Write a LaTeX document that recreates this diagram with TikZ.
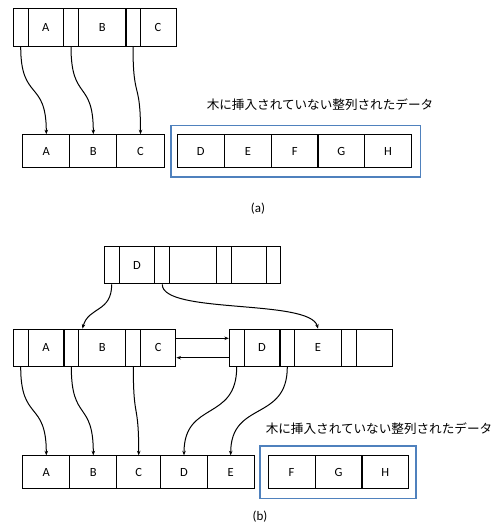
\documentclass[tikz,border=0pt]{standalone}
\usepackage{fontspec}
\setmainfont{Carlito}
\newfontfamily\jp{Noto Sans CJK JP}
\usetikzlibrary{arrows.meta}
\begin{document}
\begin{tikzpicture}[x=1pt,y=-1pt,
  cell/.style={draw=black,line width=1pt,inner sep=0pt,font=\fontsize{12.5}{14}\selectfont},
  topcell/.style={cell,minimum height=37.3pt},
  lowcell/.style={cell,minimum height=33pt},
  arr/.style={draw=black,line width=1pt,-{Stealth[length=4.5pt,width=3.5pt]}},
  bluebox/.style={draw={rgb,255:red,79;green,129;blue,189},line width=1.3pt},
  jplabel/.style={font=\jp\fontsize{12.6}{14}\selectfont,inner sep=0pt},
  caption/.style={font=\fontsize{13}{15}\selectfont,inner sep=0pt}]
\useasboundingbox (0,0) rectangle (502,526);

% ---------- (a) ----------
\node[topcell,minimum width=14.7pt] (aP0) at (20.7,27.5) {};
\node[topcell,minimum width=35.3pt] (aA) at (45.7,27.5) {A};
\node[topcell,minimum width=15.4pt] (aP1) at (71,27.5) {};
\node[topcell,minimum width=47.3pt] (aB) at (102.3,27.5) {B};
\node[topcell,minimum width=14pt] (aP2) at (133,27.5) {};
\node[topcell,minimum width=36pt] (aC) at (158,27.5) {C};

\node[lowcell,minimum width=47.3pt] (cA) at (46.3,151.2) {A};
\node[lowcell,minimum width=46.7pt] (cB) at (93.3,151.2) {B};
\node[lowcell,minimum width=47.6pt] (cC) at (140.5,151.2) {C};

\node[bluebox,minimum width=249.7pt,minimum height=51.3pt,inner sep=0pt] (aBox) at (295.85,151.35) {};
\node[lowcell,minimum width=47pt] (cD) at (200.8,151.2) {D};
\node[lowcell,minimum width=47pt] (cE) at (247.8,151.2) {E};
\node[lowcell,minimum width=46.7pt] (cF) at (294.7,151.2) {F};
\node[lowcell,minimum width=46.7pt] (cG) at (341.3,151.2) {G};
\node[lowcell,minimum width=46.6pt] (cH) at (388,151.2) {H};

\node[jplabel] (aLab) at (320,105) {木に挿入されていない整列されたデータ};
\node[caption] (aCap) at (258,209) {(a)};

\draw[arr] (aP0.south) .. controls +(0,55) and +(0,-55) .. (cA.north);
\draw[arr] (aP1.south) .. controls +(0,55) and +(0,-55) .. (cB.north);
\draw[arr] (aP2.south) .. controls +(0,55) and +(0,-55) .. (cC.north);

% ---------- (b) ----------
\node[topcell,minimum width=15.3pt] (tP0) at (111.7,265.3) {};
\node[topcell,minimum width=35.4pt] (tD) at (137,265.3) {D};
\node[topcell,minimum width=15.3pt] (tP1) at (162.3,265.3) {};
\node[topcell,minimum width=46.7pt] (tK2) at (193.3,265.3) {};
\node[topcell,minimum width=15pt] (tP2) at (224.2,265.3) {};
\node[topcell,minimum width=35pt] (tK3) at (249.2,265.3) {};
\node[topcell,minimum width=14.3pt] (tP3) at (273.8,265.3) {};

\node[topcell,minimum width=14.7pt] (lP0) at (20.7,347.8) {};
\node[topcell,minimum width=36pt] (lA) at (46,347.8) {A};
\node[topcell,minimum width=14.7pt] (lP1) at (71.3,347.8) {};
\node[topcell,minimum width=47.3pt] (lB) at (102.3,347.8) {B};
\node[topcell,minimum width=14.7pt] (lP2) at (133.3,347.8) {};
\node[topcell,minimum width=35.3pt] (lC) at (158.3,347.8) {C};

\node[topcell,minimum width=14.7pt] (rP0) at (236.7,347.8) {};
\node[topcell,minimum width=36pt] (rD) at (262,347.8) {D};
\node[topcell,minimum width=14.7pt] (rP1) at (287.3,347.8) {};
\node[topcell,minimum width=46.6pt] (rE) at (318,347.8) {E};
\node[topcell,minimum width=14.7pt] (rP2) at (348.7,347.8) {};
\node[topcell,minimum width=36pt] (rK3) at (374,347.8) {};

\draw[arr] ([yshift=9.5pt]lC.east) -- ([yshift=9.5pt]rP0.west);
\draw[arr] ([yshift=-9.9pt]rP0.west) -- ([yshift=-9.9pt]lC.east);

\node[lowcell,minimum width=47.3pt] (dA) at (46.3,472.3) {A};
\node[lowcell,minimum width=46.7pt] (dB) at (93.3,472.3) {B};
\node[lowcell,minimum width=44pt] (dC) at (138.7,472.3) {C};
\node[lowcell,minimum width=46.6pt] (dD) at (184,472.3) {D};
\node[lowcell,minimum width=46.7pt] (dE) at (230.7,472.3) {E};

\node[bluebox,minimum width=156pt,minimum height=52.3pt,inner sep=0pt] (bBox) at (338,472.15) {};
\node[lowcell,minimum width=47pt] (dF) at (291.5,472.3) {F};
\node[lowcell,minimum width=47pt] (dG) at (338.5,472.3) {G};
\node[lowcell,minimum width=46.7pt] (dH) at (385.3,472.3) {H};

\node[jplabel] (bLab) at (379,429) {木に挿入されていない整列されたデータ};
\node[caption] (bCap) at (260,517) {(b)};

\coordinate (lBin) at ([xshift=4.3pt]lB.north west);
\draw[arr] (tP0.south) .. controls +(0,28) and +(6,-22) .. (lBin);
\draw[arr] (tP1.south) .. controls +(0,30) and +(-8,-30) .. (rE.north);

\draw[arr] (lP0.south) .. controls +(0,55) and +(0,-55) .. (dA.north);
\draw[arr] (lP1.south) .. controls +(0,55) and +(0,-55) .. (dB.north);
\draw[arr] (lP2.south) .. controls +(0,55) and +(0,-55) .. (dC.north);
\draw[arr] (rP0.south) .. controls +(0,55) and +(0,-55) .. (dD.north);
\draw[arr] (rP1.south) .. controls +(0,55) and +(0,-55) .. (dE.north);
\end{tikzpicture}
\end{document}
